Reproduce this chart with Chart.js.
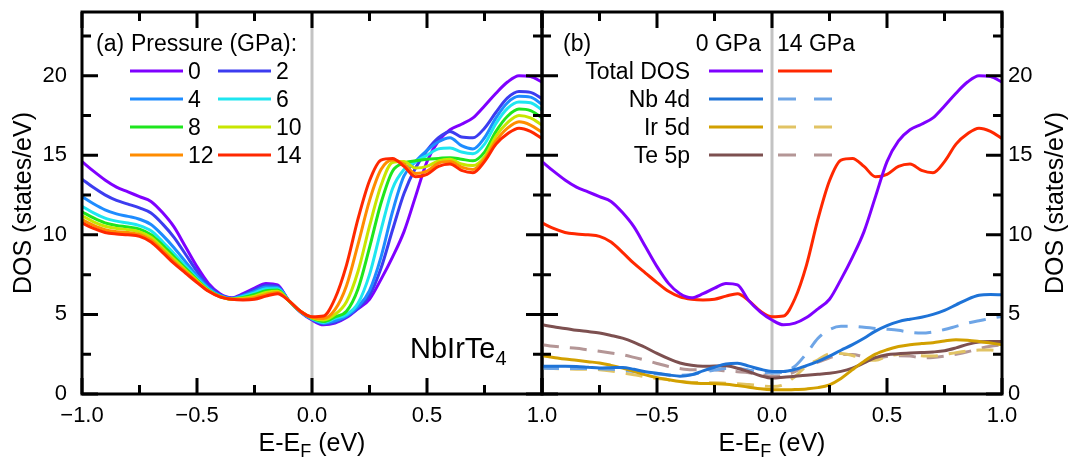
<!DOCTYPE html>
<html>
<head>
<meta charset="utf-8">
<script src="https://cdn.jsdelivr.net/npm/chart.js@4/dist/chart.umd.min.js"></script>
<style>
  html, body { margin: 0; padding: 0; background: #fff; }
  #wrap { position: relative; width: 1068px; height: 461px; }
  #wrap canvas { position: absolute; left: 0; top: 0; }
</style>
</head>
<body>
<div id="wrap">
  <canvas id="left" width="1068" height="461"></canvas>
  <canvas id="right" width="1068" height="461"></canvas>
</div>
<script>
// energy grid (eV, relative to E_F)
var energy = [-1.00, -0.95, -0.90, -0.85, -0.80, -0.75, -0.70, -0.65, -0.60, -0.55,
              -0.50, -0.45, -0.40, -0.35, -0.30, -0.25, -0.20, -0.15, -0.10, -0.05,
               0.00,  0.05,  0.10,  0.15,  0.20,  0.25,  0.30,  0.35,  0.40,  0.45,
               0.50,  0.55,  0.60,  0.65,  0.70,  0.75,  0.80,  0.85,  0.90,  0.95, 1.00];

var pressures = [0, 2, 4, 6, 8, 10, 12, 14];

// total DOS per pressure (states/eV)
var dos0  = [14.6, 14.0, 13.45, 13.0, 12.7, 12.4, 12.1, 11.4, 10.5, 9.25, 8.0, 6.95, 6.3, 6.05, 6.3, 6.65, 6.95, 6.85, 5.85, 5.15, 4.65, 4.35, 4.45, 4.8, 5.35, 5.95, 7.2, 8.6, 10.2, 12.4, 14.6, 15.9, 16.6, 16.95, 17.35, 18.1, 18.9, 19.6, 20.0, 19.95, 19.6];
var dos2  = [13.5, 12.97, 12.51, 12.16, 11.93, 11.69, 11.37, 10.69, 9.84, 8.78, 7.71, 6.81, 6.24, 6.02, 6.24, 6.55, 6.84, 6.77, 5.85, 5.16, 4.68, 4.4, 4.5, 4.85, 5.4, 6.2, 7.9, 10.3, 12.6, 14.2, 15.3, 16.1, 16.5, 16.15, 16.1, 16.7, 17.7, 18.6, 19.0, 18.95, 18.55];
var dos4  = [12.4, 11.95, 11.57, 11.32, 11.16, 10.98, 10.65, 9.98, 9.19, 8.31, 7.43, 6.67, 6.19, 6.0, 6.19, 6.45, 6.72, 6.69, 5.85, 5.17, 4.71, 4.45, 4.6, 4.9, 5.5, 6.5, 8.6, 11.45, 13.7, 14.6, 15.3, 15.85, 16.1, 15.6, 15.4, 16.1, 17.35, 18.3, 18.7, 18.65, 18.2];
var dos6  = [11.8, 11.38, 11.05, 10.86, 10.74, 10.58, 10.25, 9.58, 8.83, 8.05, 7.27, 6.59, 6.15, 5.98, 6.13, 6.35, 6.61, 6.61, 5.85, 5.18, 4.74, 4.5, 4.75, 5.0, 5.7, 7.5, 10.3, 12.9, 14.1, 14.6, 15.0, 15.4, 15.45, 15.2, 15.1, 15.7, 17.0, 17.95, 18.35, 18.3, 17.85];
var dos8  = [11.45, 11.06, 10.75, 10.59, 10.49, 10.36, 10.01, 9.36, 8.62, 7.9, 7.18, 6.54, 6.14, 5.97, 6.07, 6.25, 6.49, 6.54, 5.85, 5.18, 4.76, 4.55, 4.85, 5.2, 6.6, 9.2, 12.0, 14.0, 14.5, 14.65, 14.75, 14.8, 14.85, 14.75, 14.65, 15.2, 16.5, 17.45, 17.9, 17.8, 17.35];
var dos10 = [11.2, 10.82, 10.54, 10.4, 10.32, 10.19, 9.85, 9.19, 8.47, 7.79, 7.12, 6.51, 6.12, 5.96, 6.01, 6.15, 6.38, 6.46, 5.85, 5.19, 4.79, 4.65, 5.0, 5.8, 7.7, 10.55, 13.1, 14.55, 14.6, 14.2, 14.3, 14.65, 14.75, 14.45, 14.35, 14.9, 16.2, 17.05, 17.5, 17.35, 16.9];
var dos12 = [10.95, 10.59, 10.32, 10.2, 10.14, 10.03, 9.68, 9.03, 8.32, 7.69, 7.05, 6.48, 6.11, 5.96, 5.96, 6.05, 6.26, 6.38, 5.85, 5.2, 4.82, 4.75, 5.3, 6.8, 9.4, 12.15, 14.1, 14.7, 14.45, 13.85, 14.0, 14.5, 14.6, 14.25, 14.1, 14.75, 15.9, 16.7, 17.1, 16.9, 16.45];
var dos14 = [10.75, 10.4, 10.15, 10.05, 10.0, 9.9, 9.55, 8.9, 8.2, 7.6, 7.0, 6.45, 6.1, 5.95, 5.9, 5.95, 6.15, 6.3, 5.85, 5.2, 4.85, 4.9, 6.0, 8.1, 11.0, 13.4, 14.7, 14.8, 14.3, 13.65, 13.8, 14.3, 14.45, 14.05, 13.9, 14.6, 15.7, 16.35, 16.7, 16.5, 16.05];

// projected DOS, 0 GPa and 14 GPa
var nb0  = [1.74, 1.74, 1.74, 1.73, 1.68, 1.63, 1.65, 1.67, 1.55, 1.4, 1.3, 1.2, 1.12, 1.2, 1.45, 1.68, 1.88, 1.93, 1.75, 1.55, 1.42, 1.42, 1.55, 1.78, 2.05, 2.38, 2.75, 3.1, 3.5, 3.95, 4.3, 4.55, 4.7, 4.82, 5.0, 5.25, 5.6, 5.95, 6.2, 6.25, 6.23];
var nb14 = [1.62, 1.6, 1.6, 1.6, 1.6, 1.58, 1.55, 1.5, 1.42, 1.33, 1.25, 1.2, 1.18, 1.22, 1.35, 1.5, 1.6, 1.6, 1.5, 1.38, 1.32, 1.4, 1.75, 2.55, 3.5, 4.05, 4.25, 4.25, 4.2, 4.12, 4.07, 4.0, 3.88, 3.83, 3.9, 4.05, 4.25, 4.45, 4.6, 4.75, 4.87];
var ir0  = [2.4, 2.3, 2.2, 2.12, 2.03, 1.95, 1.8, 1.63, 1.42, 1.2, 1.03, 0.9, 0.78, 0.69, 0.66, 0.65, 0.62, 0.53, 0.43, 0.33, 0.27, 0.26, 0.28, 0.32, 0.4, 0.58, 0.98, 1.53, 2.05, 2.5, 2.78, 2.98, 3.1, 3.17, 3.22, 3.33, 3.41, 3.38, 3.3, 3.2, 3.1];
var ir14 = [1.63, 1.6, 1.58, 1.56, 1.55, 1.53, 1.45, 1.33, 1.21, 1.08, 0.98, 0.9, 0.8, 0.73, 0.71, 0.7, 0.68, 0.64, 0.59, 0.52, 0.47, 0.58, 1.1, 1.75, 2.15, 2.52, 2.55, 2.42, 2.18, 2.12, 2.36, 2.5, 2.55, 2.4, 2.38, 2.48, 2.6, 2.7, 2.76, 2.76, 2.68];
var te0  = [4.35, 4.22, 4.12, 4.0, 3.92, 3.83, 3.68, 3.51, 3.25, 2.92, 2.55, 2.22, 1.95, 1.8, 1.74, 1.76, 1.77, 1.62, 1.4, 1.15, 1.0, 1.05, 1.12, 1.18, 1.24, 1.3, 1.42, 1.63, 1.95, 2.28, 2.47, 2.53, 2.57, 2.6, 2.64, 2.72, 2.9, 3.12, 3.27, 3.3, 3.3];
var te14 = [3.1, 3.0, 2.93, 2.87, 2.77, 2.68, 2.58, 2.47, 2.3, 2.12, 1.92, 1.73, 1.6, 1.53, 1.53, 1.52, 1.45, 1.4, 1.34, 1.22, 1.12, 1.15, 1.4, 1.78, 2.0, 2.27, 2.47, 2.48, 2.35, 2.26, 2.36, 2.4, 2.38, 2.28, 2.3, 2.38, 2.5, 2.65, 2.85, 3.0, 3.1];

var xTickLabels = [-1, -0.5, 0, 0.5, 1];
var yTickLabels = [0, 5, 10, 15, 20];

var pressureDos = [dos0, dos2, dos4, dos6, dos8, dos10, dos12, dos14];
var pressureColors = ['#7f00ff', '#3c3cf0', '#1e8cff', '#1ee6f0', '#1ee61e', '#c8e600', '#ff8c00', '#ff2800'];

var orbitals = ['Total DOS', 'Nb 4d', 'Ir 5d', 'Te 5p'];
var orbitalColors0 = ['#7f00ff', '#1e73d7', '#d2a000', '#7d5050'];
var orbitalColors14 = ['#ff2800', '#6ea5e6', '#e1c364', '#b49696'];

var FONT = '"Liberation Sans", Arial, sans-serif';
Chart.defaults.font.family = FONT;
Chart.defaults.color = '#000';

function points(values) {
    return energy.map(function (e, i) { return { x: e, y: values[i] }; });
}

function fmtX(v) {
    return (v < 0 ? '\u2212' : '') + Math.abs(v).toFixed(1);
}

function xScale(skipFirst) {
    return {
        type: 'linear', min: -1, max: 1,
        grid: { display: false, drawTicks: false },
        border: { display: false },
        ticks: {
            stepSize: 0.25, autoSkip: false, maxRotation: 0, minRotation: 0,
            padding: 9, font: { size: 22 },
            callback: function (v) {
                if (skipFirst && v === -1) return '';
                return xTickLabels.indexOf(v) >= 0 ? fmtX(v) : '';
            }
        },
        afterFit: function (s) { s.height = 67; s.paddingLeft = 0; s.paddingRight = 0; }
    };
}

function yScale(position) {
    return {
        type: 'linear', min: 0, max: 24, position: position,
        grid: { display: false, drawTicks: false },
        border: { display: false },
        ticks: {
            stepSize: 2.5, includeBounds: false, autoSkip: false,
            padding: position === 'left' ? 15 : 6, font: { size: 22 },
            callback: function (v) { return yTickLabels.indexOf(v) >= 0 ? String(v) : ''; }
        },
        afterFit: function (s) {
            s.width = position === 'left' ? 82 : 66;
            s.paddingTop = 0; s.paddingBottom = 0;
        }
    };
}

// frame, inward ticks on all four sides, grey line at E_F
var framePlugin = {
    id: 'frame',
    beforeDatasetsDraw: function (chart) {
        var ctx = chart.ctx, a = chart.chartArea;
        var x0 = chart.scales.x.getPixelForValue(0);
        ctx.save();
        ctx.strokeStyle = '#c3c3c3';
        ctx.lineWidth = 3;
        ctx.beginPath();
        ctx.moveTo(x0, a.top);
        ctx.lineTo(x0, a.bottom);
        ctx.stroke();
        ctx.restore();
    },
    afterDatasetsDraw: function (chart) {
        var ctx = chart.ctx, a = chart.chartArea;
        var xs = chart.scales.x, ys = chart.scales.y;
        ctx.save();
        ctx.strokeStyle = '#000';
        ctx.lineWidth = 3;
        ctx.beginPath();
        xs.ticks.forEach(function (t) {
            var major = Math.abs(t.value * 2 - Math.round(t.value * 2)) < 1e-6;
            var len = major ? 16 : 9;
            var px = xs.getPixelForValue(t.value);
            ctx.moveTo(px, a.bottom); ctx.lineTo(px, a.bottom - len);
            ctx.moveTo(px, a.top); ctx.lineTo(px, a.top + len);
        });
        ys.ticks.forEach(function (t) {
            if (Math.abs(t.value / 2.5 - Math.round(t.value / 2.5)) > 1e-6) return;
            var major = Math.abs(t.value / 5 - Math.round(t.value / 5)) < 1e-6;
            var len = major ? 16 : 9;
            var py = ys.getPixelForValue(t.value);
            ctx.moveTo(a.left, py); ctx.lineTo(a.left + len, py);
            ctx.moveTo(a.right, py); ctx.lineTo(a.right - len, py);
        });
        ctx.stroke();
        ctx.strokeRect(a.left, a.top, a.right - a.left, a.bottom - a.top);
        ctx.restore();
    }
};

// text runs with subscripts: [text, size, dy]
function drawRuns(ctx, runs, x, y, align) {
    var w = 0;
    runs.forEach(function (r) { ctx.font = r[1] + 'px ' + FONT; w += ctx.measureText(r[0]).width; });
    var cx = align === 'center' ? x - w / 2 : (align === 'right' ? x - w : x);
    ctx.textAlign = 'left';
    ctx.textBaseline = 'alphabetic';
    runs.forEach(function (r) {
        ctx.font = r[1] + 'px ' + FONT;
        ctx.fillText(r[0], cx, y + (r[2] || 0));
        cx += ctx.measureText(r[0]).width;
    });
}

function yTitle(ctx, x, y) {
    ctx.save();
    ctx.translate(x, y);
    ctx.rotate(-Math.PI / 2);
    ctx.font = '25px ' + FONT;
    ctx.textAlign = 'center';
    ctx.textBaseline = 'alphabetic';
    ctx.fillText('DOS (states/eV)', 0, 0);
    ctx.restore();
}

function legendLine(ctx, x1, x2, y, color, dash) {
    ctx.save();
    ctx.strokeStyle = color;
    ctx.lineWidth = 3;
    ctx.setLineDash(dash || []);
    ctx.beginPath();
    ctx.moveTo(x1, y);
    ctx.lineTo(x2, y);
    ctx.stroke();
    ctx.restore();
}

var leftText = {
    id: 'leftText',
    afterDraw: function (chart) {
        var ctx = chart.ctx;
        var cx = (chart.chartArea.left + chart.chartArea.right) / 2;
        ctx.save();
        ctx.fillStyle = '#000';
        yTitle(ctx, 31, 203);
        drawRuns(ctx, [['E-E', 25], ['F', 18, 6], [' (eV)', 25]], cx, 451, 'center');
        drawRuns(ctx, [['(a)', 23]], 96, 51, 'left');
        drawRuns(ctx, [['Pressure (GPa):', 23]], 131, 51, 'left');
        pressures.forEach(function (p, i) {
            var col = i % 2, row = Math.floor(i / 2);
            var y = 71 + row * 28;
            var x1 = col === 0 ? 130 : 218;
            legendLine(ctx, x1, x1 + 53, y, pressureColors[i]);
            drawRuns(ctx, [[String(p), 23]], x1 + 58, y + 8, 'left');
        });
        drawRuns(ctx, [['NbIrTe', 29], ['4', 20, 7]], 410, 358, 'left');
        ctx.restore();
    }
};

var rightText = {
    id: 'rightText',
    afterDraw: function (chart) {
        var ctx = chart.ctx;
        var cx = (chart.chartArea.left + chart.chartArea.right) / 2;
        ctx.save();
        ctx.fillStyle = '#000';
        yTitle(ctx, 1063, 203);
        drawRuns(ctx, [['E-E', 25], ['F', 18, 6], [' (eV)', 25]], cx, 451, 'center');
        drawRuns(ctx, [['(b)', 23]], 563, 51, 'left');
        drawRuns(ctx, [['0 GPa', 23]], 761, 51, 'right');
        drawRuns(ctx, [['14 GPa', 23]], 777, 51, 'left');
        orbitals.forEach(function (name, i) {
            var y = 71 + i * 28;
            drawRuns(ctx, [[name, 23]], 690, y + 8, 'right');
            legendLine(ctx, 709, 763, y, orbitalColors0[i]);
            legendLine(ctx, 778, 832, y, orbitalColors14[i], i === 0 ? [] : [18, 18]);
        });
        ctx.restore();
    }
};

function line(values, color, order, dash) {
    return {
        data: points(values),
        borderColor: color,
        borderWidth: 3,
        borderDash: dash || [],
        pointRadius: 0,
        fill: false,
        cubicInterpolationMode: 'monotone',
        order: order
    };
}

var baseOptions = function (padding, yPos) {
    return {
        responsive: false,
        animation: false,
        events: [],
        layout: { padding: padding },
        plugins: { legend: { display: false }, tooltip: { enabled: false } },
        scales: { x: xScale(yPos === 'right'), y: yScale(yPos) }
    };
};

new Chart(document.getElementById('left').getContext('2d'), {
    type: 'line',
    data: {
        datasets: pressureDos.map(function (d, i) {
            return line(d, pressureColors[i], pressureDos.length - 1 - i);
        })
    },
    options: baseOptions({ top: 12, right: 526, left: 0, bottom: 0 }, 'left'),
    plugins: [framePlugin, leftText]
});

var dash = [17, 11];
new Chart(document.getElementById('right').getContext('2d'), {
    type: 'line',
    data: {
        datasets: [
            line(dos0, orbitalColors0[0], 0),
            line(dos14, orbitalColors14[0], 1),
            line(nb0, orbitalColors0[1], 2),
            line(ir0, orbitalColors0[2], 3),
            line(te0, orbitalColors0[3], 4),
            line(nb14, orbitalColors14[1], 5, dash),
            line(ir14, orbitalColors14[2], 6, dash),
            line(te14, orbitalColors14[3], 7, dash)
        ]
    },
    options: baseOptions({ top: 12, right: 0, left: 542, bottom: 0 }, 'right'),
    plugins: [framePlugin, rightText]
});
</script>
</body>
</html>
